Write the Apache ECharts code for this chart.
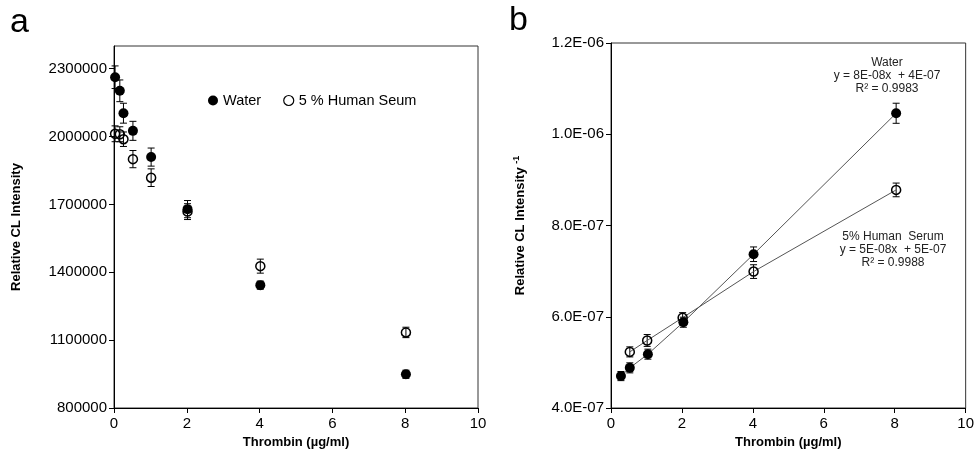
<!DOCTYPE html>
<html>
<head>
<meta charset="utf-8">
<script src="https://cdn.jsdelivr.net/npm/echarts@6/dist/echarts.min.js"></script>
<style>
html,body{margin:0;padding:0;background:#fff;}
#c{width:977px;height:465px;}
</style>
</head>
<body>
<div id="c"></div>
<script>
// ---- Panel a data ----
const aWaterX = [0.03, 0.16, 0.26, 0.52, 1.02, 2.02, 4.02, 8.02];
const aWaterY = [2262000, 2202000, 2103000, 2025000, 1909000, 1679000, 1343000, 949000];
const aWaterErr = [50000, 48000, 44000, 42000, 40000, 38000, 18000, 18000];
const aSerumX = [0.03, 0.16, 0.26, 0.52, 1.02, 2.02, 4.02, 8.02];
const aSerumY = [2012000, 2010000, 1988000, 1900000, 1818000, 1668000, 1427000, 1134000];
const aSerumErr = [35000, 33000, 32000, 38000, 39000, 35000, 31000, 23000];
const aYTicks = [800000, 1100000, 1400000, 1700000, 2000000, 2300000];

// ---- Panel b data ----
const bWaterX = [0.28, 0.53, 1.04, 2.04, 4.02, 8.04];
const bWaterY = [4.70e-7, 4.88e-7, 5.18e-7, 5.88e-7, 7.37e-7, 1.046e-6];
const bWaterErr = [1.0e-8, 1.1e-8, 1.1e-8, 1.1e-8, 1.6e-8, 2.2e-8];
const bSerumX = [0.53, 1.02, 2.02, 4.02, 8.04];
const bSerumY = [5.23e-7, 5.48e-7, 5.98e-7, 6.99e-7, 8.78e-7];
const bSerumErr = [1.1e-8, 1.3e-8, 1.1e-8, 1.5e-8, 1.5e-8];
const bYTickLabels = ['4.0E-07', '6.0E-07', '8.0E-07', '1.0E-06', '1.2E-06'];

const xTicks = [0, 2, 4, 6, 8, 10];
const waterAnno = ['Water', 'y = 8E-08x  + 4E-07', 'R\u00b2 = 0.9983'];
const serumAnno = ['5% Human  Serum', 'y = 5E-08x  + 5E-07', 'R\u00b2 = 0.9988'];

const FONT = '"Liberation Sans", Arial, sans-serif';

function zip(xs, ys) { return xs.map((x, i) => [x, ys[i]]); }
function errData(xs, ys, es) { return xs.map((x, i) => [x, ys[i] - es[i], ys[i] + es[i]]); }

function errRender(params, api) {
  const x = api.value(0), lo = api.value(1), hi = api.value(2);
  const p1 = api.coord([x, lo]), p2 = api.coord([x, hi]);
  const w = 3.5;
  const st = { stroke: '#000', lineWidth: 1 };
  return {
    type: 'group',
    children: [
      { type: 'line', shape: { x1: p1[0], y1: p1[1], x2: p2[0], y2: p2[1] }, style: st },
      { type: 'line', shape: { x1: p1[0] - w, y1: p1[1], x2: p1[0] + w, y2: p1[1] }, style: st },
      { type: 'line', shape: { x1: p2[0] - w, y1: p2[1], x2: p2[0] + w, y2: p2[1] }, style: st }
    ]
  };
}

function bFmt(v) {
  let s = v.toExponential(1).split('e');
  let e = parseInt(s[1], 10);
  let sign = e < 0 ? '-' : '+';
  let a = Math.abs(e);
  return s[0] + 'E' + sign + (a < 10 ? '0' + a : a);
}

function annoText(lines, cx, y0) {
  return lines.map((t, i) => ({
    type: 'text', x: cx, y: y0 + i * 13, silent: true,
    style: { text: t, fontSize: 12, fontFamily: FONT, fill: '#222', align: 'center', verticalAlign: 'middle' }
  }));
}

const axisLineStyle = { lineStyle: { color: '#000', width: 1 } };
const tickStyle = { show: true, length: 5, lineStyle: { color: '#000', width: 1 } };
const labelStyle = { color: '#000', fontSize: 15, fontFamily: FONT };
const nameStyle = { color: '#000', fontSize: 13, fontWeight: 'bold', fontFamily: FONT };

const chart = echarts.init(document.getElementById('c'), null, { renderer: 'canvas' });

const option = {
  animation: false,
  backgroundColor: '#fff',
  grid: [
    { left: 114, top: 46, width: 364, height: 362, show: true, borderColor: '#333', borderWidth: 1, backgroundColor: 'transparent' },
    { left: 611, top: 43, width: 359, height: 365, show: true, borderColor: '#333', borderWidth: 1, backgroundColor: 'transparent' }
  ],
  xAxis: [
    {
      gridIndex: 0, type: 'value', min: 0, max: 10, interval: 2,
      axisLine: axisLineStyle, axisTick: tickStyle, splitLine: { show: false },
      axisLabel: Object.assign({ margin: 8 }, labelStyle),
      name: 'Thrombin (\u00b5g/ml)', nameLocation: 'middle', nameGap: 24, nameTextStyle: nameStyle
    },
    {
      gridIndex: 1, type: 'value', min: 0, max: 10, interval: 2,
      axisLine: axisLineStyle, axisTick: tickStyle, splitLine: { show: false },
      axisLabel: Object.assign({ margin: 8 }, labelStyle),
      name: 'Thrombin (\u00b5g/ml)', nameLocation: 'middle', nameGap: 24, nameTextStyle: nameStyle
    }
  ],
  yAxis: [
    {
      gridIndex: 0, type: 'value', min: 800000, max: 2400000,
      axisLine: axisLineStyle,
      axisTick: Object.assign({ customValues: aYTicks }, tickStyle),
      splitLine: { show: false },
      axisLabel: Object.assign({ margin: 7, customValues: aYTicks, formatter: function (v) { return String(Math.round(v)); } }, labelStyle),
      name: 'Relative CL Intensity', nameLocation: 'middle', nameGap: 91, nameTextStyle: nameStyle
    },
    {
      gridIndex: 1, type: 'value', min: 4e-7, max: 1.2e-6, interval: 2e-7,
      axisLine: axisLineStyle, axisTick: tickStyle, splitLine: { show: false },
      axisLabel: Object.assign({ margin: 7, formatter: function (v, i) { return bYTickLabels[i] !== undefined ? bYTickLabels[i] : bFmt(v); } }, labelStyle),
      name: '{m|Relative CL Intensity }{s|-1}', nameLocation: 'middle', nameGap: 82,
      nameTextStyle: {
        rich: {
          m: { color: '#000', fontSize: 13, fontWeight: 'bold', fontFamily: FONT },
          s: { color: '#000', fontSize: 9, fontWeight: 'bold', fontFamily: FONT, verticalAlign: 'top', padding: [0, 0, 8, 0] }
        }
      }
    }
  ],
  legend: {
    left: 203, top: 88, itemWidth: 10, itemHeight: 10, itemGap: 22,
    textStyle: { color: '#000', fontSize: 14.5, fontFamily: FONT },
    data: [
      { name: 'Water', icon: 'circle', itemStyle: { color: '#000', borderWidth: 0, opacity: 1 } },
      { name: '5 % Human Seum', icon: 'circle', itemStyle: { color: 'rgba(0,0,0,0)', borderColor: '#000', borderWidth: 1.2, opacity: 1 } }
    ]
  },
  graphic: [
    { type: 'text', left: 10, top: 6, style: { text: 'a', fontSize: 34, fontFamily: FONT, fill: '#000' } },
    { type: 'text', left: 509, top: 4, style: { text: 'b', fontSize: 34, fontFamily: FONT, fill: '#000' } }
  ].concat(annoText(waterAnno, 887, 63), annoText(serumAnno, 893, 237)),
  series: [
    { name: 'errA1', type: 'custom', xAxisIndex: 0, yAxisIndex: 0, renderItem: errRender, encode: { x: 0, y: [1, 2] }, data: errData(aWaterX, aWaterY, aWaterErr), z: 2, silent: true },
    { name: 'errA2', type: 'custom', xAxisIndex: 0, yAxisIndex: 0, renderItem: errRender, encode: { x: 0, y: [1, 2] }, data: errData(aSerumX, aSerumY, aSerumErr), z: 2, silent: true },
    { name: 'Water', type: 'scatter', xAxisIndex: 0, yAxisIndex: 0, symbol: 'circle', symbolSize: 10, itemStyle: { color: '#000', opacity: 1 }, data: zip(aWaterX, aWaterY), z: 3 },
    { name: '5 % Human Seum', type: 'scatter', xAxisIndex: 0, yAxisIndex: 0, symbol: 'circle', symbolSize: 9, itemStyle: { color: 'rgba(0,0,0,0)', borderColor: '#000', borderWidth: 1.5, opacity: 1 }, data: zip(aSerumX, aSerumY), z: 3 },

    { name: 'errB1', type: 'custom', xAxisIndex: 1, yAxisIndex: 1, renderItem: errRender, encode: { x: 0, y: [1, 2] }, data: errData(bWaterX, bWaterY, bWaterErr), z: 2, silent: true },
    { name: 'errB2', type: 'custom', xAxisIndex: 1, yAxisIndex: 1, renderItem: errRender, encode: { x: 0, y: [1, 2] }, data: errData(bSerumX, bSerumY, bSerumErr), z: 2, silent: true },
    { name: 'Water b', type: 'line', xAxisIndex: 1, yAxisIndex: 1, symbol: 'circle', symbolSize: 10, showSymbol: true,
      lineStyle: { color: '#555', width: 1 }, itemStyle: { color: '#000', borderWidth: 0, opacity: 1 }, data: zip(bWaterX, bWaterY), z: 3 },
    { name: 'Serum b', type: 'line', xAxisIndex: 1, yAxisIndex: 1, symbol: 'circle', symbolSize: 9, showSymbol: true,
      lineStyle: { color: '#555', width: 1 }, itemStyle: { color: 'rgba(0,0,0,0)', borderColor: '#000', borderWidth: 1.5, opacity: 1 }, data: zip(bSerumX, bSerumY), z: 3 }
  ]
};
chart.setOption(option);
</script>
</body>
</html>
